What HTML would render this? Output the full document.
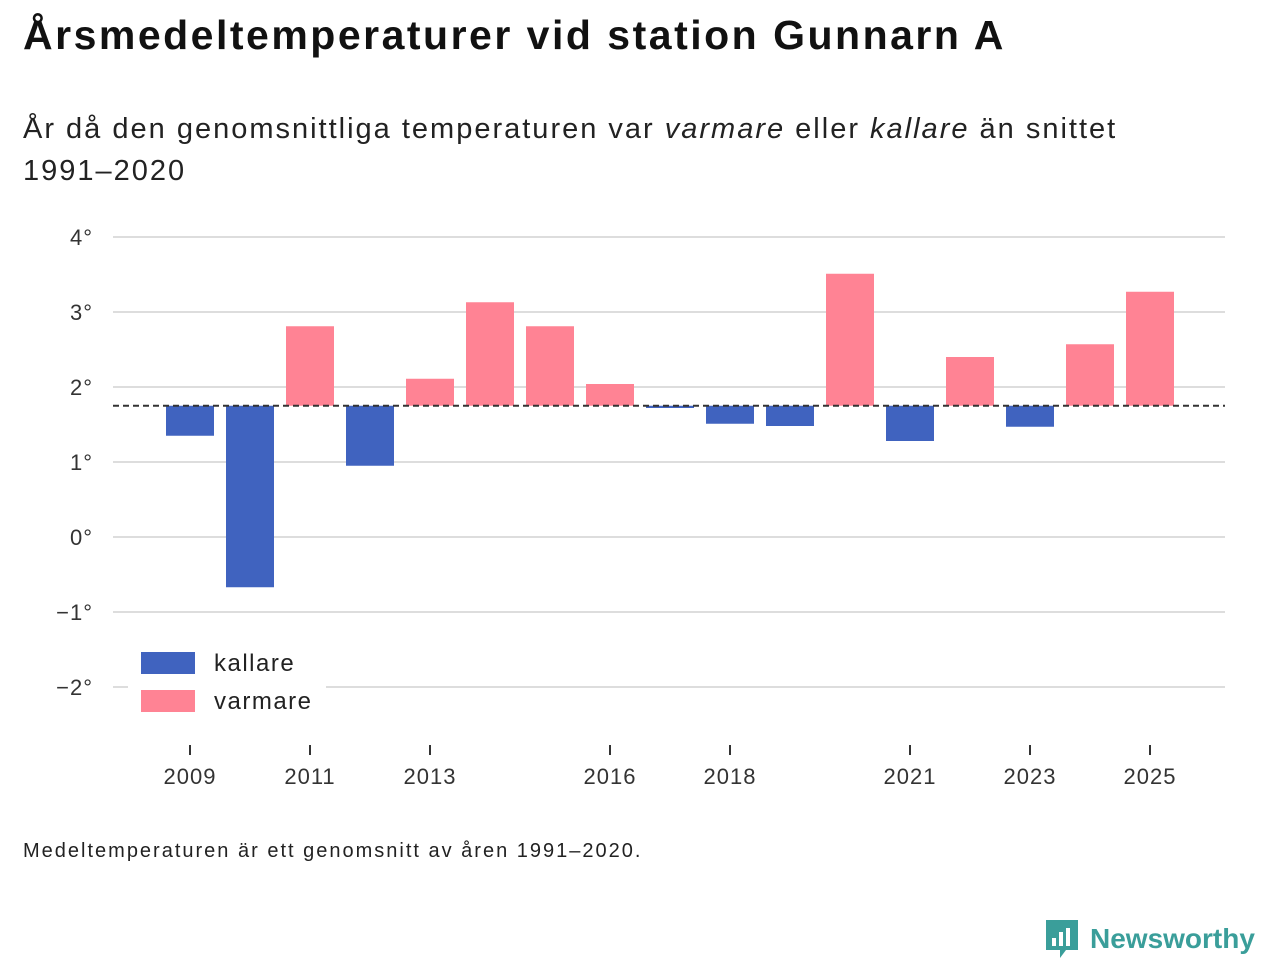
<!DOCTYPE html>
<html><head><meta charset="utf-8"><style>
body{margin:0;width:1280px;height:960px;background:#fff;font-family:"Liberation Sans",sans-serif;color:#111;overflow:hidden}
</style></head><body>
<div style="position:absolute;left:23px;top:12px;font-size:41px;font-weight:bold;letter-spacing:2.5px;white-space:nowrap">Årsmedeltemperaturer vid station Gunnarn A</div>
<div style="position:absolute;left:23px;top:108px;font-size:29px;line-height:42px;color:#222;width:1160px;letter-spacing:2px">År då den genomsnittliga temperaturen var <i>varmare</i> eller <i>kallare</i> än snittet 1991–2020</div>
<svg id="chart" width="1280" height="960" style="position:absolute;left:0;top:0"></svg>
<div style="position:absolute;left:23px;top:840px;font-size:20px;color:#222;letter-spacing:2px">Medeltemperaturen är ett genomsnitt av åren 1991–2020.</div>
<div style="position:absolute;left:1044px;top:918px;display:flex;align-items:center;">
<svg width="36" height="42"><path d="M2 2h32v30h-12l-6 8v-8h-14z" fill="#3a9e9a"/><rect x="8" y="20" width="4" height="8" fill="#fff"/><rect x="15" y="14" width="4" height="14" fill="#fff"/><rect x="22" y="10" width="4" height="18" fill="#fff"/></svg>
<span style="font-size:28px;font-weight:bold;color:#3a9e9a;margin-left:10px">Newsworthy</span></div>
<script>
const years=[2009,2010,2011,2012,2013,2014,2015,2016,2017,2018,2019,2020,2021,2022,2023,2024,2025];
const temps=[1.35,-0.67,2.81,0.95,2.11,3.13,2.81,2.04,1.72,1.51,1.48,3.51,1.28,2.4,1.47,2.57,3.27];
const baseline=1.75;
const yTicks=[4,3,2,1,0,-1,-2];
const xTickYears=[2009,2011,2013,2016,2018,2021,2023,2025];
const svg=document.getElementById('chart');const NS='http://www.w3.org/2000/svg';
const y=v=>537-v*75, x=yr=>190+(yr-2009)*60;
function mk(t,a){const e=document.createElementNS(NS,t);for(const k in a)e.setAttribute(k,a[k]);svg.appendChild(e);return e;}
yTicks.forEach(v=>{
 const l=mk('line',{x1:113,x2:1225,y1:y(v),y2:y(v),stroke:'#ddd','stroke-width':2});
 
 
 const t=mk('text',{x:93,y:y(v)+8,'text-anchor':'end','font-size':22,fill:'#333','letter-spacing':1});
 t.textContent=(v<0?'−'+(-v):v)+'°';
 
 
});
years.forEach((yr,i)=>{
 const v=temps[i];const top=Math.min(y(v),y(baseline));const h=Math.max(Math.abs(y(v)-y(baseline)),1);
 const r=mk('rect',{x:x(yr)-24,y:top,width:48,height:h,fill:v>=baseline?'#ff8394':'#4063bf'});
 
 
});
const d=mk('line',{x1:113,x2:1225,y1:y(baseline),y2:y(baseline),stroke:'#333','stroke-width':2,'stroke-dasharray':'6,4'});


xTickYears.forEach(yr=>{
 const l=mk('line',{x1:x(yr),x2:x(yr),y1:745,y2:755,stroke:'#333','stroke-width':2});
 
 
 const t=mk('text',{x:x(yr),y:784,'text-anchor':'middle','font-size':22,fill:'#333','letter-spacing':1});
 t.textContent=yr;
 
 
});
const bg=mk('rect',{x:128,y:640,width:198,height:80,fill:'#fff'});


[['kallare','#4063bf',652],['varmare','#ff8394',690]].forEach(([n,c,yy])=>{
 const r=mk('rect',{x:141,y:yy,width:54,height:22,fill:c});
 
 
 const t=mk('text',{x:214,y:yy+19,'font-size':24,fill:'#222','letter-spacing':1.5});t.textContent=n;
 
 
});
</script>
</body></html>
